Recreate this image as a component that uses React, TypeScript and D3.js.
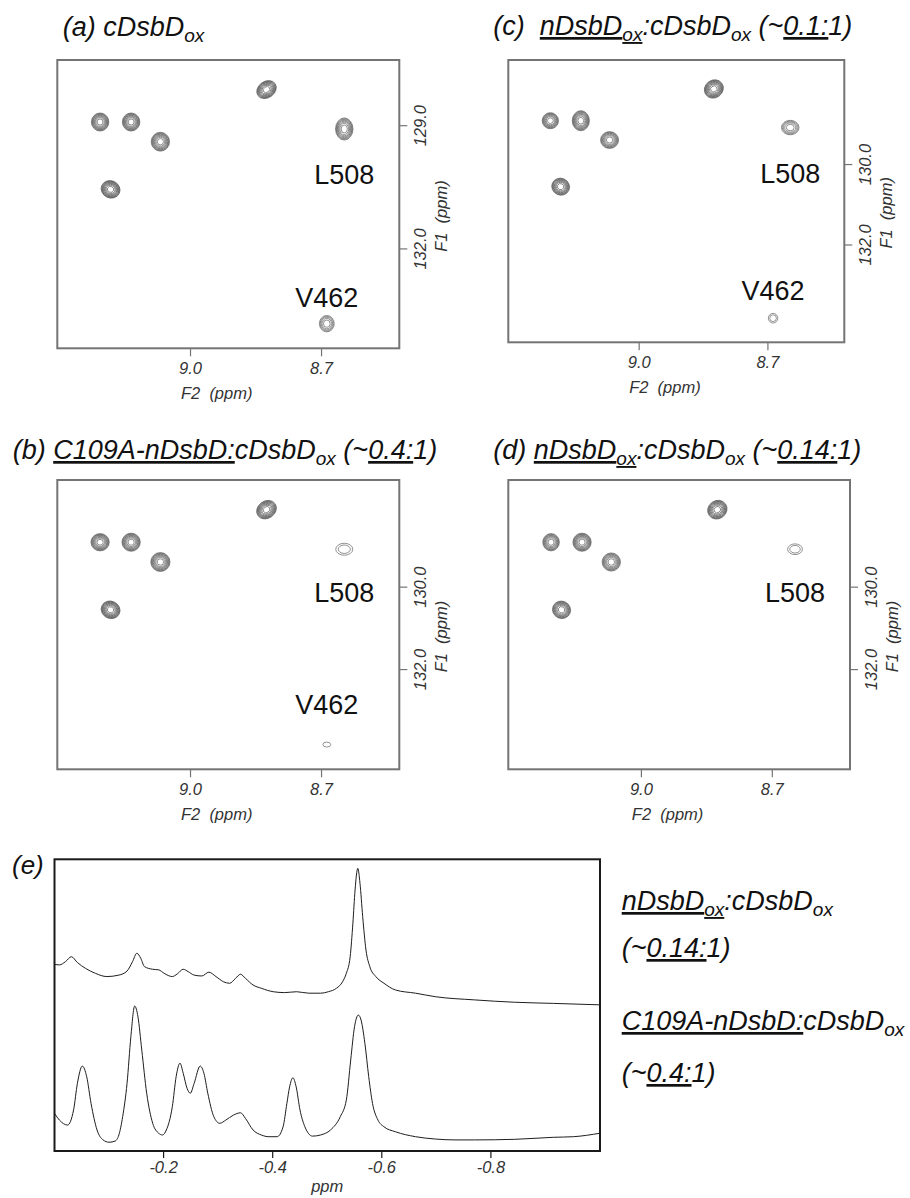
import React from 'react';
import * as d3 from 'd3';

// ---- 2D HSQC panels (a)-(d) ----
const F2_RANGE = [9.305, 8.522];
const F1_RANGE = [127.4, 134.42];
const F2_TICKS = [9.0, 8.7];
const F1_TICKS_A = [129.0, 132.0];
const F1_TICKS_BCD = [130.0, 132.0];

const PEAK_F2 = [9.207, 9.136, 9.069, 9.183, 8.826, 8.648, 8.688];
const PEAK_F1 = [128.91, 128.91, 129.39, 130.55, 128.12, 129.08, 133.82];
const PEAK_TILT = [0, 0, 0, 25, -35, 0, 0];

// number of contour levels per peak (p1..p5, L508, V462)
const LEVELS_A = [9, 9, 9, 9, 9, 8, 5];
const LEVELS_B = [9, 9, 9, 9, 9, 2, 1];
const LEVELS_C = [8, 9, 8, 8, 9, 5, 2];
const LEVELS_D = [8, 9, 8, 8, 9, 2, 0];

// outer contour half widths [F2 ppm, F1 ppm]
const WIDTHS_A = [[0.02, 0.22], [0.02, 0.22], [0.021, 0.23], [0.022, 0.21], [0.024, 0.2], [0.02, 0.27], [0.017, 0.2]];
const WIDTHS_B = [[0.021, 0.21], [0.021, 0.22], [0.022, 0.23], [0.022, 0.21], [0.024, 0.21], [0.0195, 0.145], [0.009, 0.06]];
const WIDTHS_C = [[0.019, 0.2], [0.02, 0.25], [0.021, 0.21], [0.021, 0.21], [0.023, 0.22], [0.0205, 0.18], [0.011, 0.12]];
const WIDTHS_D = [[0.019, 0.21], [0.021, 0.22], [0.021, 0.22], [0.021, 0.21], [0.023, 0.22], [0.017, 0.13], [0, 0]];

const LABELS = ['L508', 'V462'];
const LABEL_F1_A = [130.42, 133.42];
const LABEL_F1_B = [130.36, 133.09];
const LABEL_F1_C = [130.46, 133.37];
const LABEL_F1_D = [130.35, null];

// ---- 1D spectra, panel (e): [ppm, intensity] ----
const PPM_TICKS = [-0.2, -0.4, -0.6, -0.8];

const UPPER = [
  [0.0, 64.0], [-0.009, 63.8], [-0.02, 64.9], [-0.031, 66.6], [-0.042, 64.6], [-0.057, 62.6],
  [-0.075, 60.9], [-0.096, 59.8], [-0.118, 60.3], [-0.133, 61.7], [-0.143, 64.9], [-0.151, 67.8],
  [-0.158, 66.1], [-0.165, 63.2], [-0.18, 62.3], [-0.191, 62.1], [-0.201, 60.9], [-0.216, 59.8],
  [-0.225, 60.7], [-0.236, 62.3], [-0.245, 61.5], [-0.256, 60.3], [-0.27, 60.0], [-0.283, 61.3],
  [-0.296, 59.8], [-0.31, 58.0], [-0.321, 57.5], [-0.332, 59.2], [-0.341, 60.6], [-0.35, 59.2],
  [-0.364, 56.9], [-0.379, 55.8], [-0.401, 54.6], [-0.422, 54.3], [-0.444, 54.6], [-0.466, 54.1],
  [-0.488, 54.1], [-0.502, 54.6], [-0.517, 55.8], [-0.528, 58.0], [-0.535, 60.9], [-0.542, 66.6],
  [-0.547, 78.1], [-0.551, 89.5], [-0.556, 96.9], [-0.56, 91.8], [-0.565, 80.3], [-0.571, 68.9],
  [-0.578, 63.2], [-0.589, 59.8], [-0.604, 57.5], [-0.625, 55.2], [-0.662, 54.1], [-0.698, 52.9],
  [-0.77, 51.8], [-0.843, 51.0], [-0.915, 50.6], [-1.0, 50.1],
];

const LOWER = [
  [0.0, 12.9], [-0.009, 10.6], [-0.024, 8.9], [-0.035, 14.1], [-0.042, 23.2], [-0.051, 29.1],
  [-0.059, 25.5], [-0.067, 16.3], [-0.078, 7.2], [-0.089, 3.8], [-0.1, 3.0], [-0.111, 3.4],
  [-0.118, 5.5], [-0.125, 11.8], [-0.133, 23.2], [-0.14, 39.2], [-0.147, 49.7], [-0.153, 46.0],
  [-0.16, 34.6], [-0.169, 19.8], [-0.18, 9.5], [-0.191, 6.1], [-0.198, 5.5], [-0.205, 7.2],
  [-0.216, 15.2], [-0.223, 25.5], [-0.23, 30.1], [-0.236, 26.6], [-0.243, 21.5], [-0.249, 19.8],
  [-0.256, 23.2], [-0.267, 29.1], [-0.274, 26.6], [-0.281, 19.8], [-0.292, 11.8], [-0.303, 9.5],
  [-0.314, 10.6], [-0.328, 12.3], [-0.341, 13.1], [-0.35, 11.2], [-0.364, 7.2], [-0.379, 5.5],
  [-0.393, 4.9], [-0.408, 4.9], [-0.419, 8.3], [-0.426, 16.3], [-0.431, 22.0], [-0.437, 25.1],
  [-0.443, 22.0], [-0.45, 14.1], [-0.459, 8.3], [-0.473, 5.1], [-0.488, 5.5], [-0.506, 7.2],
  [-0.524, 11.8], [-0.535, 17.5], [-0.543, 31.2], [-0.55, 42.6], [-0.557, 46.6], [-0.562, 44.9],
  [-0.569, 36.9], [-0.576, 25.5], [-0.583, 16.3], [-0.593, 10.6], [-0.604, 8.3], [-0.625, 6.6],
  [-0.662, 4.9], [-0.698, 4.1], [-0.734, 3.8], [-0.77, 3.8], [-0.843, 4.0], [-0.915, 4.7],
  [-0.951, 4.9], [-1.0, 6.1],
];

type Part = { t: string; sub?: boolean; u?: boolean };

const TITLE_A: Part[] = [{ t: '(a) cDsbD' }, { t: 'ox', sub: true }];
const TITLE_B: Part[] = [{ t: '(b) ' }, { t: 'C109A-nDsbD:', u: true }, { t: 'cDsbD' }, { t: 'ox', sub: true }, { t: ' (~' }, { t: '0.4:', u: true }, { t: '1)' }];
const TITLE_C: Part[] = [{ t: '(c)  ' }, { t: 'nDsbD', u: true }, { t: 'ox', sub: true, u: true }, { t: ':cDsbD' }, { t: 'ox', sub: true }, { t: ' (~' }, { t: '0.1:', u: true }, { t: '1)' }];
const TITLE_D: Part[] = [{ t: '(d) ' }, { t: 'nDsbD', u: true }, { t: 'ox', sub: true, u: true }, { t: ':cDsbD' }, { t: 'ox', sub: true }, { t: ' (~' }, { t: '0.14:', u: true }, { t: '1)' }];

const LEGEND_1: Part[] = [{ t: 'nDsbD', u: true }, { t: 'ox', sub: true, u: true }, { t: ':cDsbD' }, { t: 'ox', sub: true }];
const LEGEND_2: Part[] = [{ t: '(~' }, { t: '0.14:', u: true }, { t: '1)' }];
const LEGEND_3: Part[] = [{ t: 'C109A-nDsbD:', u: true }, { t: 'cDsbD' }, { t: 'ox', sub: true }];
const LEGEND_4: Part[] = [{ t: '(~' }, { t: '0.4:', u: true }, { t: '1)' }];

const FONT = '"Liberation Sans", Arial, Helvetica, sans-serif';
const fmt1 = d3.format('.1f');
const fmtPpm = (v: number) => fmt1(v).replace('\u2212', '-');

function RichText({ x, y, parts, size = 27, subSize = 19 }: { x: number; y: number; parts: Part[]; size?: number; subSize?: number }) {
  let shift = 0;
  return (
    <text x={x} y={y} fontFamily={FONT} fontStyle="italic" fontSize={size} fill="#111" style={{ whiteSpace: 'pre' }}>
      {parts.map((p, i) => {
        const target = p.sub ? 6 : 0;
        const dy = target - shift;
        shift = target;
        return (
          <tspan key={i} dy={dy} fontSize={p.sub ? subSize : size} textDecoration={p.u ? 'underline' : undefined}>
            {p.t}
          </tspan>
        );
      })}
    </text>
  );
}

type Box = { x0: number; x1: number; y0: number; y1: number };

function Hsqc({ box, levels, widths, f1Ticks, labelF1 }: { box: Box; levels: number[]; widths: number[][]; f1Ticks: number[]; labelF1: (number | null)[] }) {
  const x = d3.scaleLinear().domain(F2_RANGE).range([box.x0, box.x1]);
  const y = d3.scaleLinear().domain(F1_RANGE).range([box.y0, box.y1]);
  const kx = Math.abs(x(1) - x(0));
  const ky = Math.abs(y(1) - y(0));

  return (
    <g>
      <rect x={box.x0} y={box.y0} width={box.x1 - box.x0} height={box.y1 - box.y0} fill="none" stroke="#747474" strokeWidth={2} />
      {F2_TICKS.map((t) => (
        <g key={t}>
          <line x1={x(t)} x2={x(t)} y1={box.y1} y2={box.y1 + 8} stroke="#747474" strokeWidth={1.2} />
          <text x={x(t)} y={box.y1 + 25.5} textAnchor="middle" fontFamily={FONT} fontStyle="italic" fontSize={16.5} fill="#333">
            {fmt1(t)}
          </text>
        </g>
      ))}
      <text x={x(8.94)} y={box.y1 + 51} textAnchor="middle" fontFamily={FONT} fontStyle="italic" fontSize={16.5} fill="#333" style={{ whiteSpace: 'pre' }}>
        F2  (ppm)
      </text>
      {f1Ticks.map((t) => (
        <g key={t}>
          <line x1={box.x1} x2={box.x1 + 8} y1={y(t)} y2={y(t)} stroke="#747474" strokeWidth={1.2} />
          <text transform={`translate(${box.x1 + 27},${y(t)}) rotate(-90)`} textAnchor="middle" fontFamily={FONT} fontStyle="italic" fontSize={16.5} fill="#333">
            {fmt1(t)}
          </text>
        </g>
      ))}
      <text transform={`translate(${box.x1 + 48},${y(131.2)}) rotate(-90)`} textAnchor="middle" fontFamily={FONT} fontStyle="italic" fontSize={16.5} fill="#333" style={{ whiteSpace: 'pre' }}>
        F1  (ppm)
      </text>
      {PEAK_F2.map((f2, i) => {
        const n = levels[i];
        if (!n) return null;
        const cx = x(f2);
        const cy = y(PEAK_F1[i]);
        const rx = widths[i][0] * kx;
        const ry = widths[i][1] * ky;
        return (
          <g key={i} transform={`rotate(${PEAK_TILT[i]},${cx},${cy})`}>
            {d3.range(n).map((k) => {
              const f = Math.sqrt((n - k) / n);
              return <ellipse key={k} cx={cx} cy={cy} rx={rx * f} ry={ry * f} fill="none" stroke="#4a4a4a" strokeWidth={0.6} />;
            })}
          </g>
        );
      })}
      {LABELS.map((name, j) => {
        const f1 = labelF1[j];
        if (f1 == null) return null;
        return (
          <text key={name} x={x(PEAK_F2[5 + j])} y={y(f1)} textAnchor="middle" fontFamily={FONT} fontSize={27} fill="#111">
            {name}
          </text>
        );
      })}
    </g>
  );
}

function Spectra() {
  const box = { x0: 54.5, x1: 600, y0: 859.3, y1: 1151 };
  const x = d3.scaleLinear().domain([0, -1.0]).range([box.x0, box.x1]);
  const y = d3.scaleLinear().domain([0, 100]).range([box.y1, box.y0]);
  const line = d3
    .line<number[]>()
    .x((d) => x(d[0]))
    .y((d) => y(d[1]))
    .curve(d3.curveMonotoneX);

  return (
    <g>
      <path d={line(UPPER) || ''} fill="none" stroke="#1e1e1e" strokeWidth={1} />
      <path d={line(LOWER) || ''} fill="none" stroke="#1e1e1e" strokeWidth={1} />
      <rect x={box.x0} y={box.y0} width={box.x1 - box.x0} height={box.y1 - box.y0} fill="none" stroke="#1a1a1a" strokeWidth={2} />
      {PPM_TICKS.map((t) => (
        <g key={t}>
          <line x1={x(t)} x2={x(t)} y1={box.y1} y2={box.y1 + 7} stroke="#1a1a1a" strokeWidth={1.2} />
          <text x={x(t)} y={box.y1 + 22} textAnchor="middle" fontFamily={FONT} fontStyle="italic" fontSize={16.5} fill="#333">
            {fmtPpm(t)}
          </text>
        </g>
      ))}
      <text x={x(-0.5)} y={box.y1 + 41} textAnchor="middle" fontFamily={FONT} fontStyle="italic" fontSize={16.5} fill="#333">
        ppm
      </text>
      <text x={12} y={874} fontFamily={FONT} fontStyle="italic" fontSize={26} fill="#111">
        (e)
      </text>
    </g>
  );
}

export default function App() {
  return (
    <svg width={910} height={1198} style={{ position: 'absolute', left: 0, top: 0, background: '#fff' }}>
      <rect width={910} height={1198} fill="#fff" />
      <RichText x={62.7} y={36} parts={TITLE_A} />
      <RichText x={493.3} y={35} parts={TITLE_C} />
      <RichText x={12.7} y={459} parts={TITLE_B} />
      <RichText x={493.3} y={459} parts={TITLE_D} />

      <Hsqc box={{ x0: 57.3, x1: 399.3, y0: 60, y1: 348.3 }} levels={LEVELS_A} widths={WIDTHS_A} f1Ticks={F1_TICKS_A} labelF1={LABEL_F1_A} />
      <Hsqc box={{ x0: 508.3, x1: 844.3, y0: 60, y1: 342.3 }} levels={LEVELS_C} widths={WIDTHS_C} f1Ticks={F1_TICKS_BCD} labelF1={LABEL_F1_C} />
      <Hsqc box={{ x0: 57.3, x1: 399.3, y0: 480, y1: 769.3 }} levels={LEVELS_B} widths={WIDTHS_B} f1Ticks={F1_TICKS_BCD} labelF1={LABEL_F1_B} />
      <Hsqc box={{ x0: 508.3, x1: 850, y0: 480, y1: 769.3 }} levels={LEVELS_D} widths={WIDTHS_D} f1Ticks={F1_TICKS_BCD} labelF1={LABEL_F1_D} />

      <Spectra />

      <RichText x={621.7} y={910} parts={LEGEND_1} />
      <RichText x={621.7} y={957} parts={LEGEND_2} />
      <RichText x={621.7} y={1030} parts={LEGEND_3} />
      <RichText x={621.7} y={1082} parts={LEGEND_4} />
    </svg>
  );
}
